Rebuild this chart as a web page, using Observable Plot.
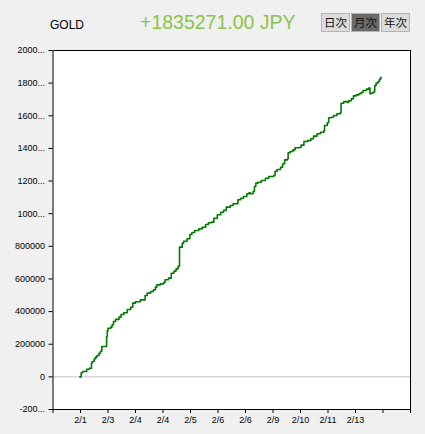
<!DOCTYPE html>
<html>
<head>
<meta charset="utf-8">
<script src="https://cdn.jsdelivr.net/npm/d3@7"></script>
<script src="https://cdn.jsdelivr.net/npm/@observablehq/plot@0.6"></script>
<style>
  body { margin: 0; background: #f0f0f0; width: 425px; height: 434px; overflow: hidden; }
  #hdr { position: relative; width: 425px; height: 40px; font-family: "Liberation Sans", Arial, sans-serif; }
  #hdr .t { position: absolute; white-space: nowrap; }
  .btn { position: absolute; top: 13px; height: 17px; width: 27px; border: 1px solid #a9b6c3; background: #dcdcdc;
         font-family: "Noto Sans CJK JP", sans-serif; font-size: 11.5px; line-height: 17px; text-align: center; color: #111; }
  .btn.sel { background: #6a6a6a; }
  svg { display: block; }
</style>
</head>
<body>
<div id="hdr"></div>
<div id="chart"></div>
<script>
// ---- data ----
const symbol = "GOLD";
const totalText = "+1835271.00 JPY";
const periodButtons = ["日次", "月次", "年次"];
const selectedButton = 1;

const trades = [39, 41, 43, 49, 53, 56, 57, 60, 62, 64, 67, 69, 71, 78, 79, 80, 84, 86, 88, 91,
  96, 99, 103, 108, 113, 116, 120, 127, 134, 137, 142, 146, 149, 151, 156, 161, 163, 168, 172, 176,
  179, 182, 184, 188, 190, 195, 199, 202, 206, 212, 217, 222, 226, 231, 234, 239, 244, 248, 252, 258,
  262, 269, 273, 277, 282, 285, 287, 291, 293, 295, 298, 303, 309, 314, 321, 323, 326, 331, 334, 337,
  341, 342, 345, 349, 352, 359, 361, 365, 370, 375, 379, 384, 389, 394, 395, 399, 401, 405, 408, 413,
  418, 419, 423, 428, 430, 434, 437, 441, 445, 448, 451, 456, 459, 461, 464, 467, 468, 470, 473, 475, 477];
const pnl = [0, 25000, 33000, 47000, 53000, 84000, 94000, 111000, 121000, 131000, 145000, 157000, 186000, 247000, 284000, 298000, 305000, 319000, 339000, 352000,
  366000, 382000, 393000, 413000, 427000, 452000, 460000, 472000, 499000, 513000, 523000, 534000, 550000, 564000, 570000, 578000, 595000, 605000, 635000, 648000,
  662000, 678000, 795000, 819000, 831000, 846000, 872000, 885000, 897000, 907000, 917000, 934000, 944000, 948000, 972000, 993000, 1009000, 1020000, 1040000, 1050000,
  1061000, 1085000, 1095000, 1105000, 1122000, 1128000, 1122000, 1136000, 1167000, 1187000, 1193000, 1203000, 1217000, 1228000, 1234000, 1260000, 1271000, 1285000, 1306000, 1330000,
  1336000, 1373000, 1381000, 1391000, 1404000, 1407000, 1420000, 1442000, 1448000, 1459000, 1475000, 1490000, 1499000, 1510000, 1540000, 1557000, 1588000, 1591000, 1602000, 1612000,
  1620000, 1677000, 1687000, 1681000, 1692000, 1704000, 1722000, 1728000, 1735000, 1743000, 1755000, 1763000, 1770000, 1736000, 1741000, 1751000, 1785000, 1801000, 1812000, 1825000, 1835271];

const xTicks = [0, 40, 80, 120, 160, 200, 240, 280, 320, 360, 400, 440, 480, 520];
const xLabels = ["", "2/1", "2/3", "2/4", "2/4", "2/5", "2/6", "2/6", "2/9", "2/10", "2/11", "2/13", "", ""];
const yTicks = [-200000, 0, 200000, 400000, 600000, 800000, 1000000, 1200000, 1400000, 1600000, 1800000, 2000000];

// ---- header ----
const hdr = document.getElementById("hdr");
function addText(txt, css) {
  const s = document.createElement("div");
  s.className = "t";
  s.textContent = txt;
  Object.assign(s.style, css);
  hdr.appendChild(s);
}
addText(symbol, {left: "50px", top: "19px", fontSize: "12px", lineHeight: "12px", color: "#000"});
addText(totalText, {left: "140px", top: "12.5px", fontSize: "19.5px", lineHeight: "19.5px", color: "#8cc34b"});
periodButtons.forEach((b, i) => {
  const d = document.createElement("div");
  d.className = "btn" + (i === selectedButton ? " sel" : "");
  d.style.left = (321 + i * 30) + "px";
  d.textContent = b;
  hdr.appendChild(d);
});

// ---- chart ----
const data = trades.map((t, i) => ({t, v: pnl[i]}));
const fmtY = d => { const s = String(d); return s.length > 6 ? s.slice(0, 4) + "..." : s; };

const chart = Plot.plot({
  width: 425,
  height: 394,
  marginLeft: 52.5,
  marginRight: 15,
  marginTop: 10,
  marginBottom: 25,
  style: {background: "transparent", fontFamily: "Liberation Sans, Arial, sans-serif", fontSize: "9px", color: "#000"},
  x: {domain: [0, 520]},
  y: {domain: [-200000, 2000000]},
  marks: [
    Plot.frame({fill: "white", stroke: null}),
    Plot.ruleY([0], {stroke: "#c0c0c0", strokeWidth: 1}),
    Plot.line(data, {x: "t", y: "v", curve: "step-after", stroke: "#007a00", strokeWidth: 1.6}),
    Plot.frame({stroke: "#000", strokeWidth: 1}),
    Plot.axisY({ticks: yTicks, tickFormat: fmtY, tickSize: 4, tickPadding: 4, label: null}),
    Plot.axisX({ticks: xTicks, tickFormat: d => xLabels[xTicks.indexOf(d)], tickSize: 4, tickPadding: 3, label: null})
  ]
});
document.getElementById("chart").appendChild(chart);
</script>
</body>
</html>
